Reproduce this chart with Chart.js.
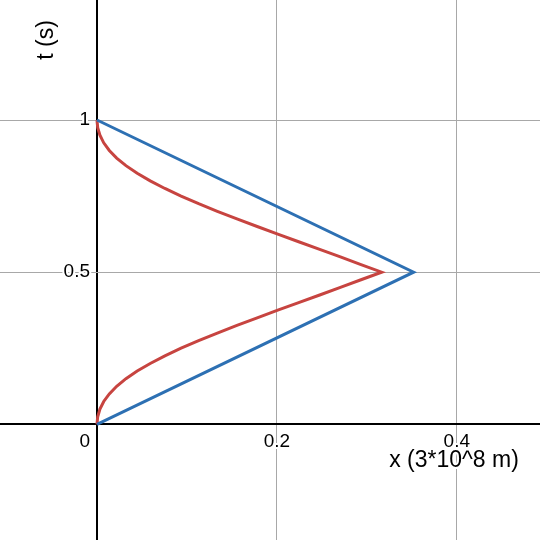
<!DOCTYPE html>
<html>
<head>
<meta charset="utf-8">
<script src="https://cdn.jsdelivr.net/npm/chart.js@4"></script>
<style>
  body { margin: 0; background: #fff; }
  #c { display: block; }
</style>
</head>
<body>
<canvas id="c" width="540" height="540"></canvas>
<script>
// datos
const tRojo = [0, 0.025, 0.05, 0.075, 0.1, 0.125, 0.15, 0.175, 0.2, 0.225, 0.25, 0.275, 0.3, 0.325, 0.35, 0.375, 0.4, 0.425, 0.45, 0.475, 0.5,
               0.525, 0.55, 0.575, 0.6, 0.625, 0.65, 0.675, 0.7, 0.725, 0.75, 0.775, 0.8, 0.825, 0.85, 0.875, 0.9, 0.925, 0.95, 0.975, 1];
const xRojo = [0, 0.0008, 0.0033, 0.0075, 0.0137, 0.0219, 0.0322, 0.0447, 0.0592, 0.0755, 0.0935, 0.1130, 0.1338, 0.1556, 0.1781, 0.2010, 0.2242, 0.2476, 0.2706, 0.2935, 0.3165,
               0.2935, 0.2706, 0.2476, 0.2242, 0.2010, 0.1781, 0.1556, 0.1338, 0.1130, 0.0935, 0.0755, 0.0592, 0.0447, 0.0322, 0.0219, 0.0137, 0.0075, 0.0033, 0.0008, 0];

const tAzul = [0, 0.5, 1];
const xAzul = [0, 0.352, 0];

const xTicks = [0, 0.2, 0.4];
const yTicks = [0, 0.5, 1];
const xTickLabels = ['0', '0.2', '0.4'];
const yTickLabels = ['0', '0.5', '1'];

const tituloX = 'x (3*10^8 m)';
const tituloY = 't (s)';

const puntos = (xs, ts) => xs.map((x, i) => ({ x: x, y: ts[i] }));

// etiquetas y titulos con halo blanco, como en desmos
const etiquetas = {
    id: 'etiquetas',
    afterDraw(chart) {
        const ctx = chart.ctx;
        const sx = chart.scales.x;
        const sy = chart.scales.y;
        const x0 = sx.getPixelForValue(0);
        const y0 = sy.getPixelForValue(0);

        ctx.save();
        ctx.lineJoin = 'round';
        ctx.strokeStyle = '#fff';
        ctx.lineWidth = 4;
        ctx.fillStyle = '#000';
        ctx.textBaseline = 'middle';
        ctx.font = '19px "Liberation Sans", Arial, sans-serif';

        xTicks.forEach((v, i) => {
            if (v === 0) return;
            const px = sx.getPixelForValue(v);
            ctx.textAlign = 'center';
            ctx.strokeText(xTickLabels[i], px, y0 + 17);
            ctx.fillText(xTickLabels[i], px, y0 + 17);
        });
        yTicks.forEach((v, i) => {
            const py = v === 0 ? y0 + 17 : sy.getPixelForValue(v);
            ctx.textAlign = 'right';
            ctx.strokeText(yTickLabels[i], x0 - 7, py);
            ctx.fillText(yTickLabels[i], x0 - 7, py);
        });

        ctx.font = '23px "Liberation Sans", Arial, sans-serif';
        ctx.textAlign = 'center';
        ctx.strokeText(tituloX, 454, 461);
        ctx.fillText(tituloX, 454, 461);

        ctx.translate(47, 40);
        ctx.rotate(-Math.PI / 2);
        ctx.strokeText(tituloY, 0, 0);
        ctx.fillText(tituloY, 0, 0);
        ctx.restore();
    }
};

const colorGrid = (c) => c.tick && c.tick.value === 0 ? '#000' : '#a8a8a8';
const anchoGrid = (c) => c.tick && c.tick.value === 0 ? 2 : 1;

new Chart(document.getElementById('c'), {
    type: 'scatter',
    data: {
        datasets: [{
            data: puntos(xAzul, tAzul),
            showLine: true,
            borderColor: '#2d70b3',
            borderWidth: 3,
            pointRadius: 0,
            tension: 0
        }, {
            data: puntos(xRojo, tRojo),
            showLine: true,
            borderColor: '#c74440',
            borderWidth: 3,
            pointRadius: 0,
            tension: 0
        }]
    },
    options: {
        responsive: false,
        animation: false,
        layout: { padding: 0 },
        plugins: {
            legend: { display: false },
            tooltip: { enabled: false }
        },
        scales: {
            x: {
                type: 'linear',
                min: -0.1078,
                max: 0.4925,
                afterBuildTicks: (s) => { s.ticks = xTicks.map(v => ({ value: v })); },
                ticks: { display: false },
                border: { display: false },
                grid: { drawTicks: false, color: colorGrid, lineWidth: anchoGrid }
            },
            y: {
                type: 'linear',
                min: -0.3802,
                max: 1.3944,
                afterBuildTicks: (s) => { s.ticks = yTicks.map(v => ({ value: v })); },
                ticks: { display: false },
                border: { display: false },
                grid: { drawTicks: false, color: colorGrid, lineWidth: anchoGrid }
            }
        }
    },
    plugins: [etiquetas]
});
</script>
</body>
</html>
